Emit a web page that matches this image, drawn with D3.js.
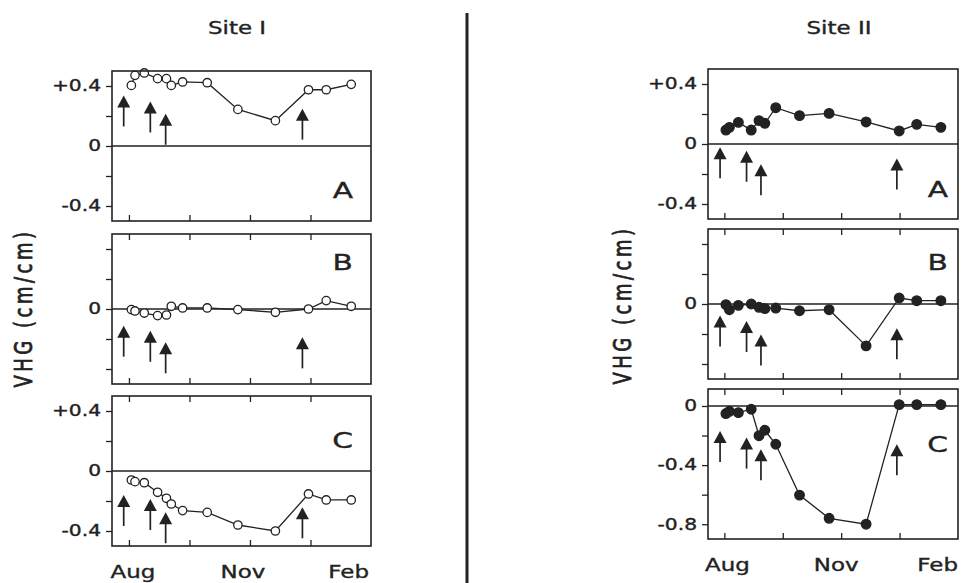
<!DOCTYPE html>
<html>
<head>
<meta charset="utf-8">
<script src="https://cdn.jsdelivr.net/npm/d3@7"></script>
<style>
body { margin: 0; background: #fff; }
svg text { font-family: "DejaVu Sans", sans-serif; fill: #222; stroke: #222; stroke-width: 0.35px; }
</style>
</head>
<body>
<div id="content"></div>
<script>
// sampling dates, in months after 1 Aug
var siteIMonths = [0.06, 0.15, 0.38, 0.71, 0.93, 1.05, 1.33, 1.94, 2.70, 3.63, 4.45, 4.89, 5.51];
var siteIIMonths = [0.04, 0.13, 0.36, 0.69, 0.89, 1.04, 1.32, 1.93, 2.69, 3.64, 4.49, 4.94, 5.56];

// VHG (cm/cm)
var siteIA = [0.404, 0.471, 0.487, 0.449, 0.449, 0.404, 0.427, 0.422, 0.244, 0.169, 0.375, 0.375, 0.411];
var siteIB = [-0.004, -0.013, -0.027, -0.044, -0.040, 0.018, 0.007, 0.007, -0.004, -0.022, 0.0, 0.056, 0.018];
var siteIC = [-0.060, -0.071, -0.078, -0.142, -0.182, -0.220, -0.264, -0.276, -0.360, -0.400, -0.153, -0.193, -0.193];
var siteIIA = [0.093, 0.111, 0.144, 0.093, 0.156, 0.138, 0.242, 0.189, 0.204, 0.147, 0.087, 0.131, 0.111];
var siteIIB = [-0.004, -0.038, -0.009, 0.0, -0.022, -0.031, -0.027, -0.045, -0.038, -0.279, 0.040, 0.022, 0.022];
var siteIIC = [-0.051, -0.036, -0.045, -0.022, -0.201, -0.164, -0.259, -0.603, -0.760, -0.800, 0.009, 0.009, 0.009];

// event arrows: month and the VHG value at the arrow tip
var arrowMonthsI = [-0.13, 0.53, 0.91, 4.30];
var arrowMonthsII = [-0.11, 0.57, 0.94, 4.43];
var arrowTipsIA = [0.337, 0.297, 0.215, 0.249];
var arrowTipsIB = [-0.111, -0.145, -0.222, -0.189];
var arrowTipsIC = [-0.160, -0.187, -0.275, -0.242];
var arrowTipsIIA = [-0.022, -0.045, -0.135, -0.097];
var arrowTipsIIB = [-0.077, -0.113, -0.203, -0.162];
var arrowTipsIIC = [-0.169, -0.214, -0.293, -0.259];

var monthTicks = [0, 1.5, 3, 4.5];
var monthLabelValues = [0, 3, 6];
var monthLabels = ["Aug", "Nov", "Feb"];
var siteTitles = ["Site I", "Site II"];

var width = 963, height = 583;
var SX = 1.35; // reference text is stretched sideways
var ink = "#222";

var svg = d3.select("#content").append("svg").attr("width", width).attr("height", height);

var sites = [
    { x0: 112, x1: 371, titleX: 237, labelX: 32, labelY: 308, bottom: 546, open: true, arrowMonths: arrowMonthsI, months: siteIMonths, labelShift: [4, -7, -2] },
    { x0: 708, x1: 958, titleX: 839, labelX: 631, labelY: 305, bottom: 539, open: false, arrowMonths: arrowMonthsII, months: siteIIMonths, labelShift: [3, -5, 0] }
];

var panels = [
    { site: 0, top: 71, letter: "A", letterDy: 127, letterDx: -18, values: siteIA, tips: arrowTipsIA, domain: [-0.5, 0.5], ticks: [-0.4, -0.2, 0, 0.2, 0.4], labelled: [0.4, 0, -0.4], topTicks: false },
    { site: 0, top: 234, letter: "B", letterDy: 36, letterDx: -18, values: siteIB, tips: arrowTipsIB, domain: [-0.5, 0.5], ticks: [-0.4, -0.2, 0, 0.2, 0.4], labelled: [0], topTicks: true },
    { site: 0, top: 396, letter: "C", letterDy: 52, letterDx: -18, values: siteIC, tips: arrowTipsIC, domain: [-0.5, 0.5], ticks: [-0.4, -0.2, 0, 0.2, 0.4], labelled: [0.4, 0, -0.4], topTicks: true },
    { site: 1, top: 69, letter: "A", letterDy: 128, letterDx: -10, values: siteIIA, tips: arrowTipsIIA, domain: [-0.5, 0.5], ticks: [-0.4, -0.2, 0, 0.2, 0.4], labelled: [0.4, 0, -0.4], topTicks: false },
    { site: 1, top: 229, letter: "B", letterDy: 41, letterDx: -10, values: siteIIB, tips: arrowTipsIIB, domain: [-0.5, 0.5], ticks: [-0.4, -0.2, 0, 0.2, 0.4], labelled: [0], topTicks: true },
    { site: 1, top: 389, letter: "C", letterDy: 63, letterDx: -10, values: siteIIC, tips: arrowTipsIIC, domain: [-0.9, 0.115], ticks: [-0.8, -0.6, -0.4, -0.2, 0], labelled: [0, -0.4, -0.8], topTicks: true }
];
var panelHeight = 150;

function fmt(d) {
    if (Math.abs(d) < 1e-9) return "0";
    return (d > 0 ? "+" : "-") + Math.abs(d).toFixed(1);
}

function stretchTexts(sel) {
    sel.selectAll(".tick text").each(function () {
        var t = d3.select(this);
        t.attr("x", (+t.attr("x") || 0) / SX).attr("transform", "scale(" + SX + ",1)");
    });
}

// divider between the sites
svg.append("line")
    .attr("x1", 467).attr("x2", 467)
    .attr("y1", 13).attr("y2", height)
    .attr("stroke", ink).attr("stroke-width", 3);

sites.forEach(function (s, i) {
    s.x = d3.scaleLinear().domain([-0.42, 6]).range([s.x0, s.x1]);

    svg.append("text")
        .attr("transform", "translate(" + s.titleX + ",34) scale(" + SX + ",1)")
        .attr("text-anchor", "middle")
        .style("font-size", "17px")
        .text(siteTitles[i]);

    svg.append("text")
        .attr("transform", "translate(" + s.labelX + "," + s.labelY + ") scale(" + SX + ",1) rotate(-90)")
        .attr("text-anchor", "middle")
        .style("font-size", "18px")
        .style("stroke-width", "0.6px")
        .style("letter-spacing", "3.5px")
        .text("VHG (cm/cm)");

    svg.selectAll(".month" + i)
        .data(monthLabelValues)
        .enter()
        .append("text")
        .attr("class", "month" + i)
        .attr("transform", function (d, j) {
            return "translate(" + (s.x(d) + s.labelShift[j]) + "," + (s.bottom + 32) + ") scale(" + SX + ",1)";
        })
        .attr("text-anchor", function (d, j) { return j === monthLabelValues.length - 1 ? "end" : "middle"; })
        .style("font-size", "17px")
        .text(function (d, j) { return monthLabels[j]; });
});

panels.forEach(function (p) {
    var s = sites[p.site];
    var x = s.x;
    var y = d3.scaleLinear().domain(p.domain).range([p.top + panelHeight, p.top]);
    var g = svg.append("g");

    // zero line
    g.append("line")
        .attr("x1", s.x0).attr("x2", s.x1)
        .attr("y1", y(0)).attr("y2", y(0))
        .attr("stroke", ink).attr("stroke-width", 1.6);

    var pts = p.values.map(function (v, i) { return [s.months[i], v]; });

    g.append("path")
        .datum(pts)
        .attr("fill", "none")
        .attr("stroke", ink)
        .attr("stroke-width", 1.3)
        .attr("d", d3.line().x(function (d) { return x(d[0]); }).y(function (d) { return y(d[1]); }));

    g.selectAll("circle")
        .data(pts)
        .enter()
        .append("circle")
        .attr("cx", function (d) { return x(d[0]); })
        .attr("cy", function (d) { return y(d[1]); })
        .attr("r", s.open ? 4.2 : 4.8)
        .attr("fill", s.open ? "#fff" : ink)
        .attr("stroke", ink)
        .attr("stroke-width", 1.3);

    // arrows
    var arrows = g.selectAll(".arrow")
        .data(p.tips)
        .enter()
        .append("g")
        .attr("class", "arrow")
        .attr("transform", function (d, i) { return "translate(" + x(s.arrowMonths[i]) + "," + y(d) + ")"; });
    arrows.append("path")
        .attr("d", "M0,0L-6.5,12L6.5,12Z")
        .attr("fill", ink);
    arrows.append("line")
        .attr("x1", 0).attr("x2", 0)
        .attr("y1", 10).attr("y2", 31)
        .attr("stroke", ink).attr("stroke-width", 1.7);

    // frame
    g.append("rect")
        .attr("x", s.x0).attr("y", p.top)
        .attr("width", s.x1 - s.x0).attr("height", panelHeight)
        .attr("fill", "none")
        .attr("stroke", ink).attr("stroke-width", 1.6);

    // y axis
    var yAxis = g.append("g")
        .attr("transform", "translate(" + s.x0 + ",0)")
        .call(d3.axisLeft(y)
            .tickValues(p.ticks)
            .tickSize(6)
            .tickPadding(5)
            .tickFormat(function (d) {
                return p.labelled.some(function (l) { return Math.abs(l - d) < 1e-9; }) ? fmt(d) : "";
            }));
    yAxis.select(".domain").remove();
    yAxis.selectAll("line").attr("stroke", ink).attr("stroke-width", 1.3);
    yAxis.selectAll("text").style("font-size", "15px").style("font-family", "DejaVu Sans, sans-serif").attr("fill", ink);
    stretchTexts(yAxis);

    // inner month ticks
    var xb = g.append("g")
        .attr("transform", "translate(0," + (p.top + panelHeight) + ")")
        .call(d3.axisBottom(x).tickValues(monthTicks).tickSize(-6).tickFormat(""));
    xb.select(".domain").remove();
    xb.selectAll("line").attr("stroke", ink).attr("stroke-width", 1.3);
    if (p.topTicks) {
        var xt = g.append("g")
            .attr("transform", "translate(0," + p.top + ")")
            .call(d3.axisTop(x).tickValues(monthTicks).tickSize(-6).tickFormat(""));
        xt.select(".domain").remove();
        xt.selectAll("line").attr("stroke", ink).attr("stroke-width", 1.3);
    }

    g.append("text")
        .attr("transform", "translate(" + (s.x1 + p.letterDx) + "," + (p.top + p.letterDy) + ") scale(" + SX + ",1)")
        .attr("text-anchor", "end")
        .style("font-size", "22px")
        .text(p.letter);
});
</script>
</body>
</html>
